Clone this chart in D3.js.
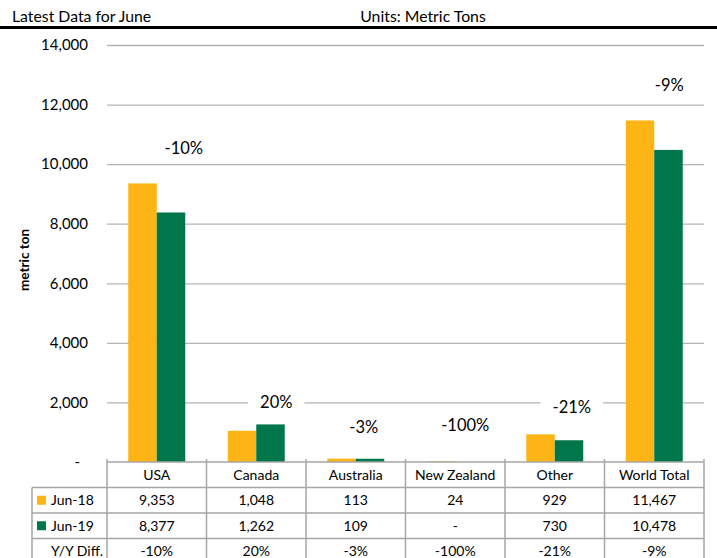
<!DOCTYPE html>
<html>
<head>
<meta charset="utf-8">
<script src="https://cdn.jsdelivr.net/npm/d3@7"></script>
<style>
  body { margin: 0; background: #fff; }
  svg { display: block; font-family: Lato, "Open Sans", sans-serif; }
</style>
</head>
<body>
<svg id="chart" width="717" height="558"></svg>
<script>
// Imports by origin, metric tons
const regions = ["USA", "Canada", "Australia", "New Zealand", "Other", "World Total"];
const seriesNames = ["Jun-18", "Jun-19"];
const jun18 = [9353, 1048, 113, 24, 929, 11467];
const jun19 = [8377, 1262, 109, 0, 730, 10478];
const yoyDiff = [-10, 20, -3, -100, -21, -9];
const yTicks = [0, 2000, 4000, 6000, 8000, 10000, 12000, 14000];
const diffRowLabel = "Y/Y Diff.";

// Where each Y/Y annotation sits: level in metric tons and a small sideways nudge (px)
const diffLabelLevel = [10540, 2010, 1175, 1240, 1850, 12660];
const diffLabelNudge = [27, 20, 8, 10, 17, 15];

const colors = ["#FDB515", "#00774A"];
const W = 717;
const plot = { left: 107, right: 704, top: 45, bottom: 462 };
const rowH = 25.5;
const legendLeft = 32;
const gridColor = "#b3b3b3";
const tableColor = "#a6a6a6";

const svg = d3.select("#chart");

const x = d3.scaleBand().domain(regions).range([plot.left, plot.right]);
const bw = x.bandwidth();
const pairHalf = 28.5;
const x1 = d3.scaleBand().domain(seriesNames).range([bw / 2 - pairHalf, bw / 2 + pairHalf]);
const y = d3.scaleLinear().domain([0, 14000]).range([plot.bottom, plot.top]);
const fmt = d3.format(",");

// Header
svg.append("text").attr("x", 12).attr("y", 22)
  .style("font-size", "15.8px").attr("fill", "#000").text("Latest Data for June");
svg.append("text").attr("x", 423).attr("y", 22).attr("text-anchor", "middle")
  .style("font-size", "15.8px").attr("fill", "#000").text("Units: Metric Tons");
svg.append("line").attr("x1", 0).attr("x2", W).attr("y1", 27.5).attr("y2", 27.5)
  .attr("stroke", "#000").attr("stroke-width", 3);

// Value axis with gridlines
const yAxis = d3.axisLeft(y)
  .tickValues(yTicks)
  .tickSize(-(plot.right - plot.left))
  .tickPadding(19)
  .tickFormat(d => d === 0 ? "-" : fmt(d));
const gy = svg.append("g").attr("transform", `translate(${plot.left},0)`).call(yAxis);
gy.attr("font-family", null).attr("font-size", null);
gy.select(".domain").remove();
gy.selectAll(".tick line").attr("stroke", gridColor).attr("stroke-width", 1.3)
  .filter(d => d === 0).remove();
gy.selectAll(".tick text").style("font-size", "15px").attr("fill", "#000")
  .filter(d => d === 0).attr("dx", -8);

svg.append("text")
  .attr("transform", "translate(29,260) rotate(-90)")
  .attr("text-anchor", "middle")
  .style("font-size", "13.5px").style("font-weight", "bold").attr("fill", "#000")
  .text("metric ton");

// Bars
const data = regions.map((r, i) => ({ region: r, values: [jun18[i], jun19[i]] }));
const groups = svg.append("g").selectAll("g").data(data).join("g")
  .attr("transform", d => `translate(${x(d.region)},0)`);
groups.selectAll("rect")
  .data(d => seriesNames.map((s, j) => ({ s, j, v: d.values[j] })))
  .join("rect")
  .attr("x", d => x1(d.s))
  .attr("width", x1.bandwidth())
  .attr("y", d => y(d.v))
  .attr("height", d => y(0) - y(d.v))
  .attr("fill", d => colors[d.j]);

// Y/Y change annotations on white boxes
const ann = svg.append("g").selectAll("g").data(regions).join("g")
  .attr("transform", (r, i) => `translate(${x(r) + bw / 2 + diffLabelNudge[i]},${y(diffLabelLevel[i])})`);
ann.append("rect").attr("fill", "#fff");
ann.append("text")
  .attr("text-anchor", "middle").attr("dy", "0.36em")
  .style("font-size", "16.5px").attr("fill", "#000")
  .text((r, i) => yoyDiff[i] + "%");
ann.each(function () {
  const g = d3.select(this);
  const bb = g.select("text").node().getBBox();
  g.select("rect").attr("x", bb.x - 12).attr("width", bb.width + 24)
    .attr("y", -11).attr("height", 22);
});

// Data table under the plot
const table = svg.append("g");
const rowTops = [plot.bottom, plot.bottom + rowH, plot.bottom + 2 * rowH, plot.bottom + 3 * rowH];
const tableBottom = plot.bottom + 4 * rowH;

// horizontal rules
table.append("line").attr("x1", plot.left).attr("x2", plot.right)
  .attr("y1", rowTops[0]).attr("y2", rowTops[0]);
rowTops.slice(1).forEach(t => {
  table.append("line").attr("x1", legendLeft).attr("x2", plot.right).attr("y1", t).attr("y2", t);
});
// vertical rules
table.append("line").attr("x1", legendLeft).attr("x2", legendLeft)
  .attr("y1", rowTops[1]).attr("y2", tableBottom);
[plot.left].concat(regions.map(r => x(r) + bw)).forEach(xx => {
  table.append("line").attr("x1", xx).attr("x2", xx).attr("y1", plot.bottom - 3).attr("y2", tableBottom);
});
table.selectAll("line").attr("stroke", tableColor).attr("stroke-width", 1.5);

const cellText = (xx, row, txt, anchor) => table.append("text")
  .attr("x", xx).attr("y", rowTops[row] + rowH / 2).attr("dy", "0.36em")
  .attr("text-anchor", anchor || "middle")
  .style("font-size", "14px").attr("fill", "#000")
  .text(txt);

regions.forEach((r, i) => {
  const cx = x(r) + bw / 2;
  cellText(cx, 0, r);
  cellText(cx, 1, jun18[i] ? fmt(jun18[i]) : "-");
  cellText(cx, 2, jun19[i] ? fmt(jun19[i]) : "-");
  cellText(cx, 3, yoyDiff[i] + "%");
});

// Legend keys in the row headers
seriesNames.forEach((s, j) => {
  table.append("rect")
    .attr("x", 37).attr("y", rowTops[j + 1] + rowH / 2 - 4.5)
    .attr("width", 9).attr("height", 9).attr("fill", colors[j]);
  cellText(51, j + 1, s, "start");
});
cellText(51, 3, diffRowLabel, "start");
</script>
</body>
</html>
